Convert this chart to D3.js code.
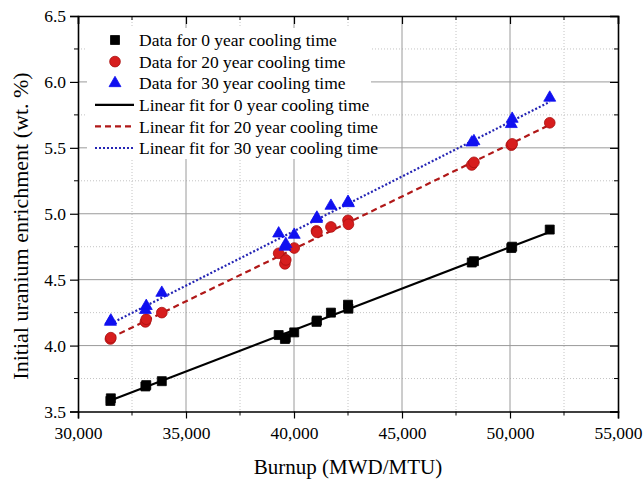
<!DOCTYPE html>
<html>
<head>
<meta charset="utf-8">
<script src="https://cdn.jsdelivr.net/npm/d3@7"></script>
<style>
  body { margin: 0; background: #fff; }
  svg, svg text { font-family: 'Liberation Serif', 'DejaVu Serif', 'Times New Roman', serif !important; fill: #000; }
</style>
</head>
<body>
<script>
// burnup of each assembly (same for all three cooling times)
const burnup = [31500, 31520, 33120, 33160, 33880, 39290, 39580, 39620, 40010, 41040,
                41060, 41710, 42500, 42520, 48230, 48330, 50060, 50100, 51840];
// initial enrichment
const enrich0  = [3.58, 3.60, 3.69, 3.70, 3.73, 4.08, 4.05, 4.06, 4.10, 4.18,
                  4.19, 4.25, 4.31, 4.28, 4.63, 4.64, 4.74, 4.75, 4.88];
const enrich20 = [4.05, 4.06, 4.18, 4.20, 4.25, 4.70, 4.62, 4.65, 4.74, 4.87,
                  4.86, 4.90, 4.95, 4.92, 5.37, 5.39, 5.52, 5.53, 5.69];
const enrich30 = [4.18, 4.19, 4.27, 4.30, 4.40, 4.85, 4.75, 4.77, 4.84, 4.96,
                  4.97, 5.06, 5.09, 5.08, 5.54, 5.55, 5.68, 5.72, 5.88];

const xTicks = [30000, 35000, 40000, 45000, 50000, 55000];
const yTicks = [3.5, 4.0, 4.5, 5.0, 5.5, 6.0, 6.5];

const series = [
  {name: '0 year', vals: enrich0, marker: 'square', fill: '#000', stroke: '#000', line: '#000', dash: null},
  {name: '20 year', vals: enrich20, marker: 'circle', fill: '#d71d1d', stroke: '#a81010', line: '#b01818', dash: '6,4'},
  {name: '30 year', vals: enrich30, marker: 'triangle', fill: '#1010f0', stroke: '#1010f0', line: '#2424b4', dash: '2,2'}
];

const FONT = "'Liberation Serif', 'DejaVu Serif', serif";
const W = 643, H = 480;
const margin = {top: 16, right: 25, bottom: 68.5, left: 78};
const innerW = W - margin.left - margin.right;
const innerH = H - margin.top - margin.bottom;

const svg = d3.select('body').append('svg').attr('width', W).attr('height', H)
  .attr('font-family', FONT);
const g = svg.append('g').attr('transform', `translate(${margin.left},${margin.top})`);

const x = d3.scaleLinear().domain([30000, 55000]).range([0, innerW]);
const y = d3.scaleLinear().domain([3.5, 6.5]).range([innerH, 0]);

const xMinor = d3.range(32500, 55000, 5000);
const yMinor = d3.range(3.75, 6.5, 0.5);

// grid
g.append('g').selectAll('line').data(xMinor).enter().append('line')
  .attr('x1', d => x(d)).attr('x2', d => x(d)).attr('y1', 0).attr('y2', innerH)
  .attr('stroke', '#c4c4c4').attr('stroke-dasharray', '1,2');
g.append('g').selectAll('line').data(yMinor).enter().append('line')
  .attr('y1', d => y(d)).attr('y2', d => y(d)).attr('x1', 0).attr('x2', innerW)
  .attr('stroke', '#c4c4c4').attr('stroke-dasharray', '1,2');
g.append('g').selectAll('line').data(xTicks.slice(1, -1)).enter().append('line')
  .attr('x1', d => x(d)).attr('x2', d => x(d)).attr('y1', 0).attr('y2', innerH)
  .attr('stroke', '#9a9a9a');
g.append('g').selectAll('line').data(yTicks.slice(1, -1)).enter().append('line')
  .attr('y1', d => y(d)).attr('y2', d => y(d)).attr('x1', 0).attr('x2', innerW)
  .attr('stroke', '#9a9a9a');

// axes (left/bottom ticks out, top/right ticks in)
const fmt = d3.format(',');
const axB = g.append('g').attr('transform', `translate(0,${innerH})`)
  .call(d3.axisBottom(x).tickValues(xTicks).tickFormat(fmt).tickSize(7).tickPadding(8));
axB.append('g').selectAll('line').data(xMinor).enter().append('line')
  .attr('x1', d => x(d)).attr('x2', d => x(d)).attr('y1', 0).attr('y2', 4).attr('stroke', '#000');

const axL = g.append('g')
  .call(d3.axisLeft(y).tickValues(yTicks).tickFormat(d3.format('.1f')).tickSize(8).tickPadding(4));
axL.append('g').selectAll('line').data(yMinor).enter().append('line')
  .attr('y1', d => y(d)).attr('y2', d => y(d)).attr('x1', 0).attr('x2', -4).attr('stroke', '#000');

const axT = g.append('g').call(d3.axisTop(x).tickValues(xTicks).tickFormat('').tickSize(-8));
axT.append('g').selectAll('line').data(xMinor).enter().append('line')
  .attr('x1', d => x(d)).attr('x2', d => x(d)).attr('y1', 0).attr('y2', 4).attr('stroke', '#000');
const axR = g.append('g').attr('transform', `translate(${innerW},0)`)
  .call(d3.axisRight(y).tickValues(yTicks).tickFormat('').tickSize(-8));
axR.append('g').selectAll('line').data(yMinor).enter().append('line')
  .attr('y1', d => y(d)).attr('y2', d => y(d)).attr('x1', 0).attr('x2', -4).attr('stroke', '#000');

[axB, axL, axT, axR].forEach(a => {
  a.attr('font-family', FONT).attr('font-size', 17.5);
  a.select('.domain').attr('stroke-width', 1.6);
  a.selectAll('.tick line').attr('stroke-width', 1.2);
});

// linear fits (least squares)
function fit(vals) {
  const mx = d3.mean(burnup), my = d3.mean(vals);
  let sxy = 0, sxx = 0;
  burnup.forEach((b, i) => { sxy += (b - mx) * (vals[i] - my); sxx += (b - mx) * (b - mx); });
  const k = sxy / sxx;
  const ext = d3.extent(burnup);
  return ext.map(b => [b, my + k * (b - mx)]);
}

const line = d3.line().x(d => x(d[0])).y(d => y(d[1]));
series.forEach(s => {
  g.append('path').datum(fit(s.vals)).attr('d', line)
    .attr('fill', 'none').attr('stroke', s.line).attr('stroke-width', 2.2)
    .attr('stroke-dasharray', s.dash);
});

const symType = {square: d3.symbolSquare, circle: d3.symbolCircle, triangle: d3.symbolTriangle};
const symSize = {square: 81, circle: 90, triangle: 62};
const sym = m => d3.symbol().type(symType[m]).size(symSize[m])();

series.forEach(s => {
  g.append('g').selectAll('path').data(burnup.map((b, i) => [b, s.vals[i]])).enter().append('path')
    .attr('d', sym(s.marker))
    .attr('transform', d => `translate(${x(d[0])},${y(d[1])})`)
    .attr('fill', s.fill).attr('stroke', s.stroke).attr('stroke-width', 0.8);
});

// legend
const leg = svg.append('g');
leg.append('rect').attr('x', 87).attr('y', 28).attr('width', 284).attr('height', 131).attr('fill', '#fff');
const rowY = i => 40 + i * 21.6;
series.forEach((s, i) => {
  leg.append('path').attr('d', sym(s.marker)).attr('transform', `translate(115,${rowY(i)})`)
    .attr('fill', s.fill).attr('stroke', s.stroke).attr('stroke-width', 0.8);
  leg.append('text').attr('x', 139).attr('y', rowY(i)).attr('dy', '0.35em')
    .attr('font-size', 17.5).text(`Data for ${s.name} cooling time`);
  leg.append('line').attr('x1', 95).attr('x2', 134).attr('y1', rowY(i + 3)).attr('y2', rowY(i + 3))
    .attr('stroke', s.line).attr('stroke-width', 2.2).attr('stroke-dasharray', s.dash);
  leg.append('text').attr('x', 139).attr('y', rowY(i + 3)).attr('dy', '0.35em')
    .attr('font-size', 17.5).text(`Linear fit for ${s.name} cooling time`);
});

// axis titles
svg.append('text').attr('x', margin.left + innerW / 2).attr('y', 474).attr('text-anchor', 'middle')
  .attr('font-size', 21).text('Burnup (MWD/MTU)');
svg.append('text').attr('transform', 'translate(28,226) rotate(-90)').attr('text-anchor', 'middle')
  .attr('font-size', 22).text('Initial uranium enrichment (wt. %)');
</script>
</body>
</html>
